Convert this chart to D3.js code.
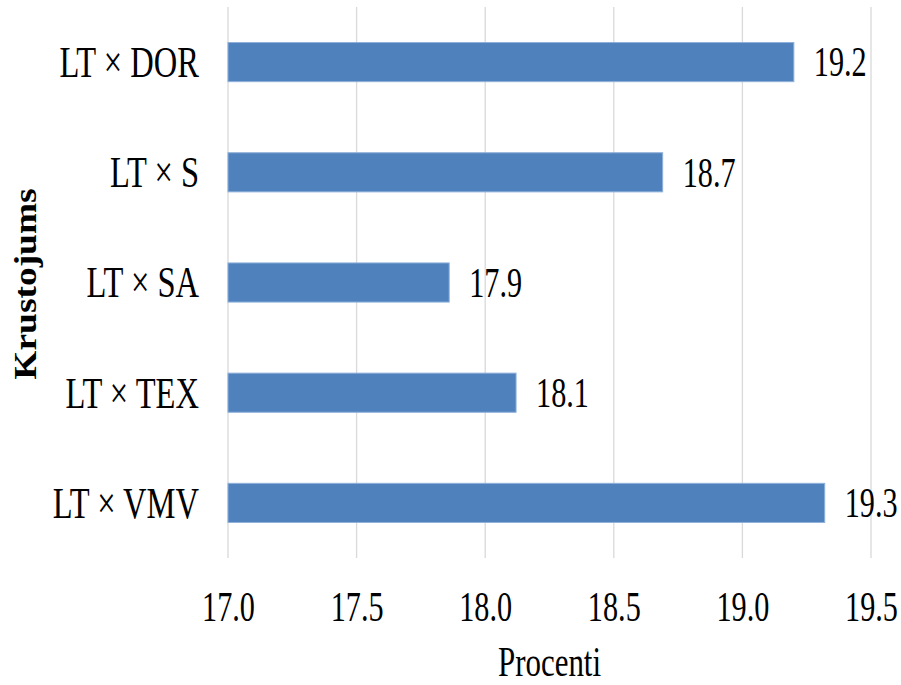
<!DOCTYPE html>
<html>
<head>
<meta charset="utf-8">
<script src="https://cdn.jsdelivr.net/npm/d3@7"></script>
<style>
  html, body { margin: 0; padding: 0; background: #ffffff; }
  svg { display: block; }
  text { font-family: "Liberation Serif", "Times New Roman", serif; fill: #000; }
</style>
</head>
<body>
<svg id="chart" width="901" height="685"></svg>
<script>
// Crossbreed combinations (top to bottom) and their percentages
const categories = ["LT × DOR", "LT × S", "LT × SA", "LT × TEX", "LT × VMV"];
const values = [19.20, 18.69, 17.86, 18.12, 19.32];
const xTicks = [17.0, 17.5, 18.0, 18.5, 19.0, 19.5];
const xTitle = "Procenti";
const yTitle = "Krustojums";

const svg = d3.select("#chart");
const plot = { left: 228, right: 871, top: 7, bottom: 558 };

// Text is drawn narrow and tall, so glyphs are squeezed horizontally
const FS = 42, SX = 0.72;
const CAT_FS = 44, CAT_SX = 0.74;

const x = d3.scaleLinear().domain([17.0, 19.5]).range([plot.left, plot.right]);
const y = d3.scaleBand().domain(categories)
  .range([plot.top, plot.bottom])
  .paddingInner(0.645).paddingOuter(0.3225);

// Vertical gridlines
svg.append("g")
  .selectAll("line")
  .data(xTicks)
  .join("line")
  .attr("x1", d => x(d)).attr("x2", d => x(d))
  .attr("y1", plot.top).attr("y2", plot.bottom)
  .attr("stroke", "#d9d9d9").attr("stroke-width", 1.3);

// Bars
const data = categories.map((c, i) => ({ c, v: values[i] }));
svg.append("g")
  .selectAll("rect")
  .data(data)
  .join("rect")
  .attr("x", x(17.0))
  .attr("y", d => y(d.c))
  .attr("width", d => x(d.v) - x(17.0))
  .attr("height", y.bandwidth())
  .attr("fill", "#4f81bd")
  .attr("stroke", "#8eb0da").attr("stroke-width", 1);

// Value labels at the end of each bar
const fmt = d3.format(".1f");
svg.append("g")
  .selectAll("text")
  .data(data)
  .join("text")
  .attr("transform", d => `translate(${x(d.v) + 20},${y(d.c) + y.bandwidth() / 2}) scale(${SX},1)`)
  .attr("dy", "0.34em")
  .attr("font-size", FS)
  .text(d => fmt(d.v));

// Category axis (no line, no ticks)
const yAxis = svg.append("g")
  .attr("transform", `translate(${plot.left - 29},0)`)
  .call(d3.axisLeft(y).tickSize(0).tickPadding(0));
yAxis.select(".domain").remove();
yAxis.selectAll("text")
  .attr("font-family", "Liberation Serif, Times New Roman, serif")
  .attr("font-size", CAT_FS)
  .attr("fill", "#000")
  .attr("dy", "0.34em")
  .attr("x", 0)
  .attr("transform", `scale(${CAT_SX},1)`);

// Value axis at the bottom (no line, no ticks)
const xAxis = svg.append("g")
  .attr("transform", `translate(0,${plot.bottom})`)
  .call(d3.axisBottom(x).tickValues(xTicks).tickFormat(d3.format(".1f")).tickSize(0));
xAxis.select(".domain").remove();
xAxis.selectAll("text")
  .attr("font-family", "Liberation Serif, Times New Roman, serif")
  .attr("font-size", FS)
  .attr("fill", "#000")
  .attr("y", 63)
  .attr("dy", 0)
  .attr("x", 0)
  .attr("transform", `scale(${SX},1)`);

// Axis titles
svg.append("text")
  .attr("transform", `translate(${(plot.left + plot.right) / 2},${676}) scale(${SX},1)`)
  .attr("text-anchor", "middle")
  .attr("font-size", 43)
  .text(xTitle);

svg.append("text")
  .attr("transform", `translate(${36},${284}) rotate(-90) scale(1.17,1)`)
  .attr("text-anchor", "middle")
  .attr("font-size", 32)
  .attr("font-weight", "bold")
  .text(yTitle);
</script>
</body>
</html>
